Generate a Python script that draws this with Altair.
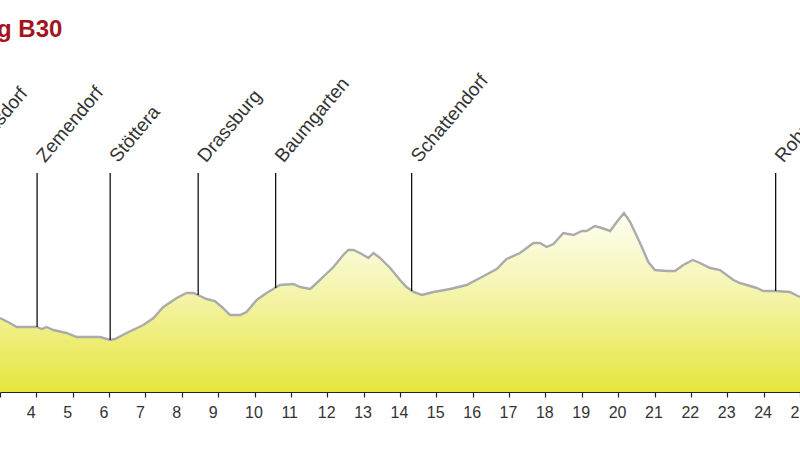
import altair as alt
import pandas as pd

# Elevation profile (distance in km, elevation in m)
km = [3.00, 3.27, 3.46, 3.92, 4.01, 4.15, 4.28, 4.47, 4.83, 5.11, 5.75, 6.03, 6.16, 6.48, 6.94,
      7.22, 7.49, 7.86, 8.13, 8.32, 8.50, 8.68, 8.91, 9.10, 9.33, 9.60, 9.78, 10.06, 10.33, 10.56,
      10.70, 11.07, 11.25, 11.53, 11.71, 11.94, 12.17, 12.44, 12.58, 12.72, 12.95, 13.13, 13.27,
      13.45, 13.73, 14.00, 14.18, 14.37, 14.60, 14.92, 15.38, 15.83, 16.20, 16.66, 16.93, 17.30,
      17.67, 17.85, 18.03, 18.22, 18.49, 18.77, 19.00, 19.13, 19.36, 19.55, 19.78, 19.96, 20.16,
      20.33, 20.60, 20.83, 21.01, 21.33, 21.56, 21.79, 22.05, 22.25, 22.53, 22.80, 23.17, 23.35,
      23.81, 23.99, 24.33, 24.72, 25.00]
elev = [224, 219, 215, 215, 215, 213, 215, 212, 209, 205, 205, 202, 203, 209, 217,
        224, 235, 244, 249, 249, 246, 243, 241, 235, 227, 227, 230, 242, 249, 254,
        257, 258, 255, 253, 259, 267, 275, 287, 292, 292, 288, 284, 289,
        284, 274, 262, 255, 250, 247, 250, 253, 257, 264, 273, 283, 289,
        299, 299, 295, 298, 309, 307, 311, 311, 316, 314, 311, 320, 329,
        320, 299, 280, 272, 271, 271, 277, 282, 279, 274, 272, 262, 259,
        254, 251, 251, 250, 245]

# Towns along the route
towns = ["Pöttelsdorf", "Zemendorf", "Stöttera", "Drassburg", "Baumgarten", "Schattendorf", "Rohrbach"]
town_km = [1.96, 4.02, 6.03, 8.45, 10.58, 14.32, 24.33]
town_ground = [230, 215, 202, 247, 254, 251, 251]
marker_top = 369
label_level = 380
base_elev = 150

ticks = list(range(3, 26))
title_text = "g B30"

profile = pd.DataFrame({"km": km, "elev": elev})
tdf = pd.DataFrame({"town": towns, "km": town_km, "ground": town_ground,
                    "top": [marker_top] * len(towns), "lab": [label_level] * len(towns)})

FONT = "Liberation Sans"
xscale = alt.Scale(domain=[3, 25], nice=False, zero=False)
yscale = alt.Scale(domain=[150, 500], nice=False, zero=False)
xaxis = alt.Axis(values=ticks, title=None, grid=False, domainColor="#222", domainWidth=1.2,
                 tickColor="#222", tickSize=5, tickWidth=1.2, labelAlign="left", labelOffset=-10,
                 labelBaseline="top", labelPadding=7, labelFontSize=16,
                 labelFont=FONT, labelColor="#333", labelFlush=False,
                 labelOverlap=False, labelBound=False, format="d", zindex=1)

gradient = alt.Gradient(
    gradient="linear",
    stops=[alt.GradientStop(color="#fefef2", offset=0),
           alt.GradientStop(color="#f5f5b5", offset=0.4),
           alt.GradientStop(color="#e6e63c", offset=1)],
    x1=1, x2=1, y1=0, y2=1,
)

area = alt.Chart(profile).mark_area(
    color=gradient, opacity=1, fillOpacity=1,
    line={"color": "#ababab", "strokeWidth": 2.4},
).encode(
    x=alt.X("km:Q", scale=xscale, axis=xaxis),
    y=alt.Y("elev:Q", scale=yscale, axis=None),
    y2=alt.datum(base_elev),
)

rules = alt.Chart(tdf).mark_rule(color="#111", strokeWidth=1.3).encode(
    x=alt.X("km:Q", scale=xscale, axis=xaxis),
    y=alt.Y("top:Q", scale=yscale, axis=None),
    y2="ground:Q",
)

labels = alt.Chart(tdf).mark_text(
    angle=310, align="left", baseline="alphabetic", dx=4, dy=7,
    font=FONT, fontSize=19, color="#333",
).encode(
    x=alt.X("km:Q", scale=xscale, axis=xaxis),
    y=alt.Y("lab:Q", scale=yscale, axis=None),
    text="town:N",
)

title = alt.Chart(pd.DataFrame({"t": [title_text]})).mark_text(
    align="left", baseline="alphabetic", font=FONT, fontSize=24, fontWeight="bold",
    color="#a3141c",
).encode(x=alt.value(-3), y=alt.value(-5), text="t:N")

chart = alt.layer(area, rules, labels, title).properties(
    width=800, height=350,
    padding={"left": 0, "right": 0, "top": 42, "bottom": 58},
    autosize=alt.AutoSizeParams(type="none"),
).configure_view(strokeWidth=0)

chart.save("out.html", embed_options={"renderer": "svg", "actions": False})
